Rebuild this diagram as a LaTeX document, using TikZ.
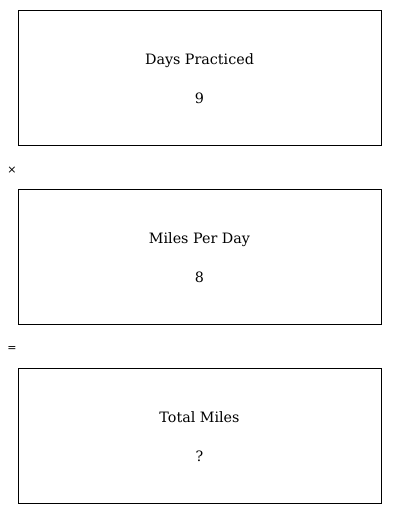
\documentclass[tikz,border=0pt]{standalone}
\usepackage{fontspec}
\setmainfont{DejaVu Serif}
\newfontfamily\symfont{DejaVu Sans}
\begin{document}
\begin{tikzpicture}[x=1pt,y=1pt,
  box/.style={draw=black, line width=1pt, minimum width=363pt, minimum height=135pt, inner sep=0pt},
  lbl/.style={font=\fontsize{14.3}{17}\selectfont, anchor=base},
  op/.style={font=\symfont\fontsize{11}{13}\selectfont}]
\useasboundingbox (0,0) rectangle (400,514);
\node[box] (b1) at (199.5,436) {};
\node[box] (b2) at (199.5,257) {};
\node[box] (b3) at (199.5,78) {};
\node[lbl] (t1) at (199.5,449) {Days Practiced};
\node[lbl] (v1) at (199.5,410) {9};
\node[lbl] (t2) at (199.5,270) {Miles Per Day};
\node[lbl] (v2) at (199.5,231) {8};
\node[lbl] (t3) at (199.5,91) {Total Miles};
\node[lbl] (v3) at (199.5,52) {?};
\node[op] (times) at (12,344) {×};
\node[op] (eq) at (12,165) {=};
\end{tikzpicture}
\end{document}
